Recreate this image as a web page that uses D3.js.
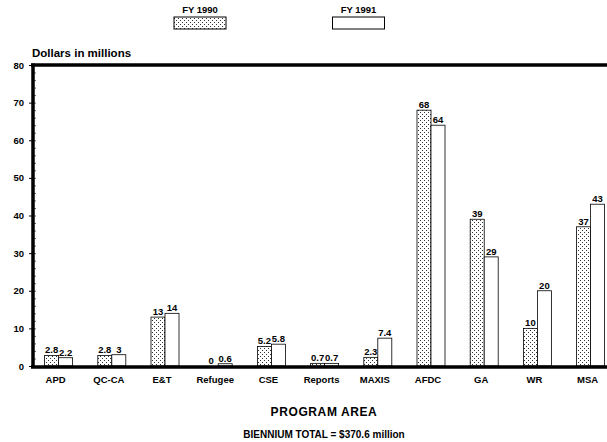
<!DOCTYPE html>
<html><head><meta charset="utf-8">
<script src="https://cdn.jsdelivr.net/npm/d3@7"></script>
<style>body{margin:0;background:#fff}svg{display:block}text{font-family:"Liberation Sans",Arial,sans-serif;fill:#000}</style>
</head><body><svg id="c" width="607" height="442"></svg>
<script>
const categories = ["APD","QC-CA","E&T","Refugee","CSE","Reports","MAXIS","AFDC","GA","WR","MSA"];
const fy1990 = [2.8, 2.8, 13, 0, 5.2, 0.7, 2.3, 68, 39, 10, 37];
const fy1991 = [2.2, 3, 14, 0.6, 5.8, 0.7, 7.4, 64, 29, 20, 43];
const fy1990Labels = ["2.8","2.8","13","0","5.2","0.7","2.3","68","39","10","37"];
const fy1991Labels = ["2.2","3","14","0.6","5.8","0.7","7.4","64","29","20","43"];
const yTicks = [0,10,20,30,40,50,60,70,80];
const seriesNames = ["FY 1990","FY 1991"];

const svg = d3.select("#c");
const defs = svg.append("defs");
const pat = defs.append("pattern").attr("id","dots").attr("patternUnits","userSpaceOnUse")
  .attr("width",4).attr("height",4);
pat.append("rect").attr("width",4).attr("height",4).attr("fill","#fff");
pat.append("rect").attr("x",0).attr("y",0).attr("width",1).attr("height",1).attr("fill","#333");
pat.append("rect").attr("x",2).attr("y",2).attr("width",1).attr("height",1).attr("fill","#333");

const y = d3.scaleLinear().domain([0,80]).range([366,65]);
const x = d3.scaleBand().domain(categories).range([32,617.2]).paddingInner(0).paddingOuter(0);
const bw = 14;

// legend
const leg = [{name:seriesNames[0],fill:"url(#dots)",cx:200},{name:seriesNames[1],fill:"#fff",cx:358.5}];
leg.forEach(l=>{
  svg.append("text").attr("x",l.cx).attr("y",13).attr("text-anchor","middle")
    .attr("font-size",9.5).attr("font-weight","bold").text(l.name);
  svg.append("rect").attr("x",l.cx-26).attr("y",17).attr("width",52).attr("height",12)
    .attr("fill",l.fill).attr("stroke","#000").attr("stroke-width",1);
});

svg.append("text").attr("x",32).attr("y",57).attr("font-size",11.5).attr("font-weight","bold").text("Dollars in millions");

// bars
const g = svg.append("g");
categories.forEach((c,i)=>{
  const cx = x(c)+x.bandwidth()/2;
  [[fy1990[i],"url(#dots)",cx-bw,fy1990Labels[i]],[fy1991[i],"#fff",cx,fy1991Labels[i]]].forEach(([v,f,x0,lab])=>{
    if(v>0) g.append("rect").attr("x",x0).attr("y",y(v)).attr("width",bw).attr("height",y(0)-y(v))
      .attr("fill",f).attr("stroke","#000").attr("stroke-width",0.8);
    g.append("text").attr("x",x0+bw/2).attr("y",y(v)-2).attr("text-anchor","middle")
      .attr("font-size",9.5).attr("font-weight","bold").text(lab);
  });
});

// y axis
const ya = svg.append("g").attr("transform","translate(33,0)")
  .call(d3.axisLeft(y).tickValues(yTicks).tickSize(4).tickFormat(d3.format("d")));
ya.select(".domain").remove();
ya.selectAll("text").attr("font-size",9.5).attr("font-weight","bold").attr("x",-9);
ya.selectAll("line").attr("stroke","#000");
// minor ticks
svg.append("g").attr("transform","translate(33,0)")
  .call(d3.axisRight(y).ticks(40).tickSize(3).tickFormat(""))
  .call(s=>{s.select(".domain").remove();s.selectAll("line").attr("stroke","#000").attr("stroke-width",0.6);});

// frame lines
svg.append("line").attr("x1",33).attr("x2",33).attr("y1",63.5).attr("y2",368).attr("stroke","#000").attr("stroke-width",3.5);
svg.append("line").attr("x1",31).attr("x2",607).attr("y1",65).attr("y2",65).attr("stroke","#000").attr("stroke-width",3.5);
svg.append("line").attr("x1",31).attr("x2",607).attr("y1",367).attr("y2",367).attr("stroke","#000").attr("stroke-width",3.5);

// x labels
const xa = svg.append("g").attr("transform","translate(0,369)")
  .call(d3.axisBottom(x).tickSize(0).tickPadding(7));
xa.select(".domain").remove();
xa.selectAll("text").attr("font-size",9.5).attr("font-weight","bold").attr("dx",-3);

svg.append("text").attr("x",324).attr("y",416).attr("text-anchor","middle").attr("font-size",12)
  .attr("font-weight","bold").attr("letter-spacing",0.6).text("PROGRAM AREA");
svg.append("text").attr("x",324).attr("y",438).attr("text-anchor","middle").attr("font-size",10)
  .attr("font-weight","bold").text("BIENNIUM TOTAL = $370.6 million");
</script></body></html>
